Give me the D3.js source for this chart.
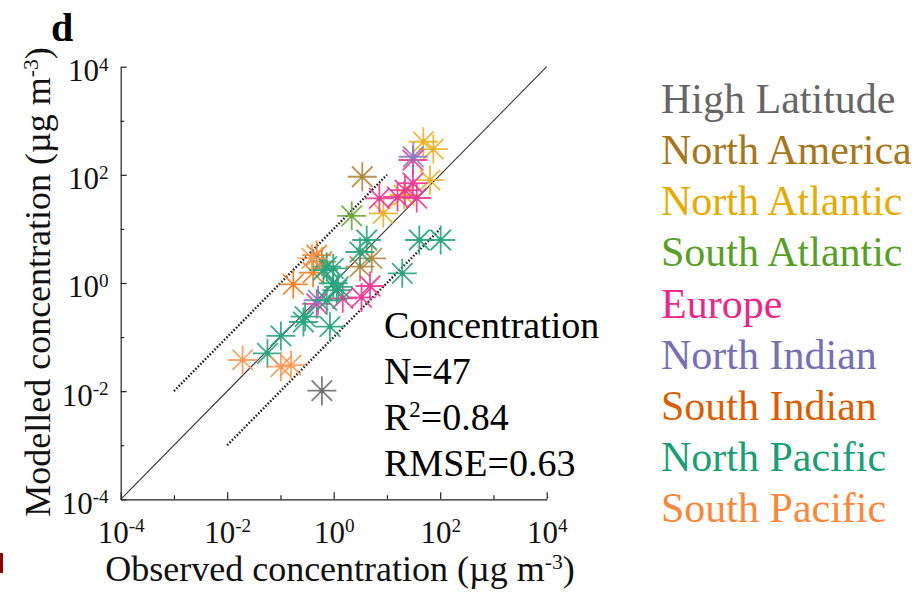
<!DOCTYPE html>
<html><head><meta charset="utf-8">
<script src="https://cdn.jsdelivr.net/npm/d3@7"></script>
<style>body{margin:0;background:#fff;} svg{display:block;}</style>
</head><body>
<svg id="c" width="923" height="593"></svg>
<script>
// ---- data ----
const regions = ["High Latitude","North America","North Atlantic","South Atlantic","Europe","North Indian","South Indian","North Pacific","South Pacific"];
const regionColors = ["#666666","#a6761d","#e6ab02","#5a9e2a","#e7298a","#7570b3","#d95f02","#1b9e77","#f7883c"];
const pointColors = ["#707070","#b08a45","#eab22a","#6aa83a","#ec3a94","#8a7fc0","#f07d22","#2aa47c","#f89a5a"];
// observed (x) and modelled (y) per region, µg m-3
const highLatObs = [0.6];            const highLatMod = [0.0102];
const nAmericaObs = [3.44, 5.18, 0.60, 3.12]; const nAmericaMod = [92.2, 2.86, 2.48, 2.0];
const nAtlanticObs = [48.2, 74.3, 64.3, 8.55, 20.9]; const nAtlanticMod = [409, 300, 80.2, 19.4, 42.4];
const sAtlanticObs = [2.18]; const sAtlanticMod = [17.5];
const europeObs = [7.2, 15.8, 30.8, 36.2, 21.8, 30.8, 4.8, 3.33, 1.48, 0.48];
const europeMod = [36.8, 38.9, 70.6, 37.3, 52.4, 188, 0.88, 0.54, 0.52, 0.41];
const nIndianObs = [31.3, 0.51]; const nIndianMod = [216, 0.48];
const sIndianObs = [0.174, 0.48, 0.41]; const sIndianMod = [0.946, 3.29, 1.55];
const nPacificObs = [40.5, 102, 19.4, 4.17, 3.12, 0.74, 0.98, 1.14, 0.74, 0.85, 0.29, 0.27, 0.102, 0.057, 0.64, 1.22, 0.98];
const nPacificMod = [6.24, 6.24, 1.51, 6.24, 3.74, 2.0, 0.99, 0.74, 0.48, 0.156, 0.238, 0.19, 0.105, 0.050, 1.74, 0.85, 1.87];
const sPacificObs = [0.0195, 0.102, 0.158, 0.39]; const sPacificMod = [0.0377, 0.0283, 0.0304, 2.86];
const majorTicks = [1e-4, 1e-2, 1, 1e2, 1e4];
const majorExps = ["-4","-2","0","2","4"];
const minorTicks = [1e-3, 1e-1, 10, 1e3];
const statsLines = ["Concentration","N=47","R2=0.84","RMSE=0.63"];
const oneToOne = [1e-4, 1e4];
const upperBand = [1e-3, 1e1];   // y = 10x
const lowerBand = [1e-2, 1e2];   // y = x/10

const seriesObs = [highLatObs,nAmericaObs,nAtlanticObs,sAtlanticObs,europeObs,nIndianObs,sIndianObs,nPacificObs,sPacificObs];
const seriesMod = [highLatMod,nAmericaMod,nAtlanticMod,sAtlanticMod,europeMod,nIndianMod,sIndianMod,nPacificMod,sPacificMod];

// ---- layout ----
const svg = d3.select("#c");
const FONT = "'Liberation Serif','Times New Roman',serif";
const x = d3.scaleLog().domain([1e-4,1e4]).range([120.7,546.7]);
const y = d3.scaleLog().domain([1e-4,1e4]).range([499.3,66.7]);

// reference lines
const line = d3.line().x(d=>x(d[0])).y(d=>y(d[1]));
svg.append("path").attr("d", line(oneToOne.map(v=>[v,v])))
  .attr("stroke","#333").attr("stroke-width",1.1).attr("fill","none");
svg.append("path").attr("d", line(upperBand.map(v=>[v,v*10])))
  .attr("stroke","#222").attr("stroke-width",2.4).attr("stroke-dasharray","1.6,1.8").attr("fill","none");
svg.append("path").attr("d", line(lowerBand.map(v=>[v,v/10])))
  .attr("stroke","#222").attr("stroke-width",2.4).attr("stroke-dasharray","1.6,1.8").attr("fill","none");

// points
function star(r){
  const p = d3.path();
  for(let k=0;k<4;k++){
    const a = k*Math.PI/4;
    p.moveTo(-r*Math.cos(a), -r*Math.sin(a));
    p.lineTo(r*Math.cos(a), r*Math.sin(a));
  }
  return p.toString();
}
const pts = [];
seriesObs.forEach((obs,i)=>obs.forEach((o,j)=>pts.push({o, m:seriesMod[i][j], c:pointColors[i]})));
const g = svg.append("g");
const mk = g.selectAll("g.pt").data(pts).join("g")
  .attr("transform", d=>`translate(${x(d.o)},${y(d.m)})`);
mk.append("path").attr("d", star(14.5)).attr("stroke", d=>d.c).attr("stroke-width",1.8)
  .attr("fill","none").attr("stroke-opacity",0.9);
mk.append("circle").attr("r",2.4).attr("fill", d=>d.c);

// axes
function supLabel(sel, exps){
  sel.selectAll(".tick text").each(function(d,i){
    const t = d3.select(this);
    t.text(null);
    t.append("tspan").text("10");
    t.append("tspan").attr("dy","-0.55em").attr("font-size","0.62em").text(exps[i]);
  });
}
const xAxis = svg.append("g").attr("transform","translate(0,499.3)")
  .call(d3.axisBottom(x).tickValues(majorTicks).tickSizeInner(-7).tickSizeOuter(0).tickPadding(14));
xAxis.call(s=>supLabel(s, majorExps));
xAxis.selectAll(".tick text").attr("dy","0.95em");
const xMinor = svg.append("g").attr("transform","translate(0,499.3)")
  .call(d3.axisBottom(x).tickValues(minorTicks).tickSizeInner(-4).tickSizeOuter(0).tickFormat(""));
xMinor.select(".domain").remove();

const yAxis = svg.append("g").attr("transform","translate(120.7,0)")
  .call(d3.axisLeft(y).tickValues(majorTicks).tickSizeInner(-6).tickSizeOuter(0).tickPadding(12));
yAxis.call(s=>supLabel(s, majorExps));
yAxis.selectAll(".tick text").attr("dy","0.45em");
const yMinor = svg.append("g").attr("transform","translate(120.7,0)")
  .call(d3.axisLeft(y).tickValues(minorTicks).tickSizeInner(-3.5).tickSizeOuter(0).tickFormat(""));
yMinor.select(".domain").remove();

svg.selectAll(".domain").attr("stroke","#222").attr("stroke-width",1.2);
svg.selectAll(".tick line").attr("stroke","#222").attr("stroke-width",1.2);
svg.selectAll(".tick text").attr("font-family",FONT).attr("font-size",31).attr("fill","#111");

// axis titles
const xt = svg.append("text").attr("x",340).attr("y",581).attr("text-anchor","middle")
  .attr("font-family",FONT).attr("font-size",36).attr("fill","#111");
xt.append("tspan").text("Observed concentration (\u00b5g m");
xt.append("tspan").attr("dy","-0.55em").attr("font-size","0.6em").text("-3");
xt.append("tspan").attr("dy","0.33em").text(")");

const yt = svg.append("text").attr("transform","translate(50,282) rotate(-90)").attr("text-anchor","middle")
  .attr("font-family",FONT).attr("font-size",36).attr("fill","#111");
yt.append("tspan").text("Modelled concentration (\u00b5g m");
yt.append("tspan").attr("dy","-0.55em").attr("font-size","0.6em").text("-3");
yt.append("tspan").attr("dy","0.33em").text(")");

// panel letter
svg.append("text").attr("x",51).attr("y",41).attr("font-family",FONT).attr("font-weight","bold")
  .attr("font-size",40).attr("fill","#000").text("d");

// stats
const st = svg.append("g").attr("font-family",FONT).attr("font-size",38).attr("fill","#000");
const statY = [338, 384, 430, 476];
statsLines.forEach((s,i)=>{
  const t = st.append("text").attr("x",384).attr("y",statY[i]);
  if(s.startsWith("R2")){
    t.append("tspan").text("R");
    t.append("tspan").attr("dy","-0.55em").attr("font-size","0.6em").text("2");
    t.append("tspan").attr("dy","0.33em").text(s.slice(2));
  } else t.text(s);
});

// legend
const lg = svg.append("g").attr("font-family",FONT).attr("font-size",42);
regions.forEach((r,i)=>{
  lg.append("text").attr("x",661).attr("y",113.3+i*51.05).attr("fill",regionColors[i]).text(r);
});

// small red artifact at left edge
svg.append("rect").attr("x",0).attr("y",553).attr("width",3).attr("height",20).attr("fill","#8b0000");
</script>
</body></html>
